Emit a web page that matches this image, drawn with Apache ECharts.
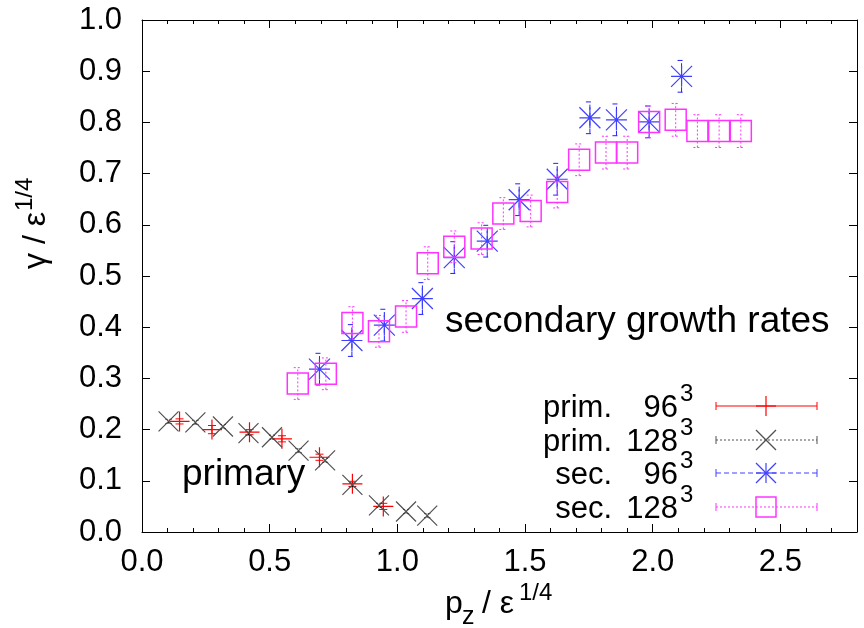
<!DOCTYPE html>
<html><head><meta charset="utf-8">
<script src="https://cdn.jsdelivr.net/npm/echarts@6/dist/echarts.min.js"></script>
<style>html,body{margin:0;padding:0;background:#fff}#c{width:864px;height:628px}</style>
</head><body><div id="c"></div>
<script>
// ---- data ----
const prim96X  = [0.147, 0.274, 0.421, 0.548, 0.695, 0.824, 0.945];
const prim96Y  = [0.216, 0.200, 0.195, 0.182, 0.146, 0.094, 0.050];
const prim96E  = [0.005, 0.008, 0.005, 0.006, 0.006, 0.005, 0.006];
const prim128X = [0.104, 0.209, 0.317, 0.417, 0.509, 0.613, 0.717, 0.824, 0.928, 1.034, 1.117];
const prim128Y = [0.216, 0.214, 0.206, 0.193, 0.185, 0.159, 0.140, 0.092, 0.052, 0.040, 0.032];
const prim128E = [0.004, 0.004, 0.004, 0.004, 0.004, 0.004, 0.004, 0.004, 0.004, 0.004, 0.004];
const sec96X   = [0.695, 0.822, 0.949, 1.098, 1.223, 1.352, 1.477, 1.626, 1.754, 1.858, 1.986, 2.113];
const sec96Y   = [0.318, 0.374, 0.404, 0.456, 0.536, 0.568, 0.649, 0.689, 0.809, 0.805, 0.801, 0.890];
const sec96E   = [0.031, 0.031, 0.031, 0.031, 0.031, 0.031, 0.031, 0.031, 0.031, 0.031, 0.031, 0.031];
const sec128X  = [0.610, 0.720, 0.824, 0.928, 1.034, 1.119, 1.223, 1.330, 1.415, 1.522, 1.626, 1.712, 1.817, 1.900, 1.986, 2.090, 2.175, 2.260, 2.345];
const sec128Y  = [0.290, 0.309, 0.408, 0.392, 0.421, 0.525, 0.557, 0.573, 0.622, 0.627, 0.664, 0.727, 0.741, 0.741, 0.801, 0.805, 0.783, 0.783, 0.783];
const sec128E  = [0.031, 0.031, 0.032, 0.031, 0.031, 0.032, 0.031, 0.031, 0.031, 0.031, 0.031, 0.031, 0.032, 0.032, 0.031, 0.032, 0.032, 0.032, 0.032];
const xTickLabels = ['0.0', '0.5', '1.0', '1.5', '2.0', '2.5'];
const yTickLabels = ['0.0', '0.1', '0.2', '0.3', '0.4', '0.5', '0.6', '0.7', '0.8', '0.9', '1.0'];
const legendNames = ['prim.', 'prim.', 'sec.', 'sec.'];
const legendRes   = ['96', '128', '96', '128'];

// ---- styles ----
const FONT = 'Liberation Sans, Arial, Helvetica, sans-serif';
const C_RED = '#ff0000', C_BLK = '#505050', C_BLU = '#4040ff', C_MAG = '#ff33ff';
const SYM_PLUS = 'path://M5,0L5,10M0,5L10,5';
const SYM_X = 'path://M0,0L10,10M10,0L0,10';
const SYM_AST = 'path://M5,0L5,10M0,5L10,5M0,0L10,10M10,0L0,10';

function pairs(xs, ys) { return xs.map((x, i) => [x, ys[i]]); }
function triples(xs, ys, es) { return xs.map((x, i) => [x, ys[i], es[i]]); }

function errSeries(xs, ys, es, color, dash, capW, z) {
  return {
    type: 'custom', silent: true, z: z,
    data: triples(xs, ys, es),
    encode: { x: 0, y: 1 },
    renderItem: function (params, api) {
      const x = api.value(0), y = api.value(1), e = api.value(2);
      const a = api.coord([x, y - e]), b = api.coord([x, y + e]);
      const st = { stroke: color, lineWidth: 1, lineDash: dash, fill: null };
      return { type: 'group', children: [
        { type: 'line', shape: { x1: a[0], y1: a[1], x2: b[0], y2: b[1] }, style: st },
        { type: 'line', shape: { x1: a[0] - capW, y1: a[1], x2: a[0] + capW, y2: a[1] }, style: st },
        { type: 'line', shape: { x1: b[0] - capW, y1: b[1], x2: b[0] + capW, y2: b[1] }, style: st }
      ]};
    }
  };
}
function markSeries(xs, ys, symbol, size, color, width, z) {
  return {
    type: 'scatter', silent: true, z: z, data: pairs(xs, ys),
    symbol: symbol, symbolSize: size,
    itemStyle: { color: 'none', borderColor: color, borderWidth: width, opacity: 1 },
    emphasis: { disabled: true }
  };
}

// ---- legend & annotation graphics ----
const graphics = [];
const rowY = [406, 440, 473, 507];
const lx0 = 716, lx1 = 817, lxm = 766;
const legStyle = [
  { c: C_RED, dash: null },
  { c: C_BLK, dash: [2, 2] },
  { c: C_BLU, dash: [5, 3] },
  { c: C_MAG, dash: [2, 2] }
];
function ln(x1, y1, x2, y2, color, w, dash) {
  return { type: 'line', silent: true, z: 100, shape: { x1, y1, x2, y2 },
    style: { stroke: color, lineWidth: w, lineDash: dash } };
}
rowY.forEach((y, i) => {
  const s = legStyle[i];
  graphics.push({ type: 'text', silent: true, z: 100, x: 612, y: y + 2,
    style: { text: legendNames[i], font: '31px ' + FONT, fill: '#000', align: 'right', verticalAlign: 'middle' } });
  graphics.push({ type: 'text', silent: true, z: 100, x: 678, y: y + 2,
    style: { text: legendRes[i], font: '31px ' + FONT, fill: '#000', align: 'right', verticalAlign: 'middle' } });
  graphics.push({ type: 'text', silent: true, z: 100, x: 680, y: y - 12,
    style: { text: '3', font: '24px ' + FONT, fill: '#000', align: 'left', verticalAlign: 'middle' } });
  graphics.push(ln(lx0, y, lx1, y, s.c, 1, s.dash));
  graphics.push(ln(lx0, y - 4, lx0, y + 4, s.c, 1, null));
  graphics.push(ln(lx1, y - 4, lx1, y + 4, s.c, 1, null));
});
// legend markers
graphics.push(ln(lxm - 10, rowY[0], lxm + 10, rowY[0], C_RED, 1.2));
graphics.push(ln(lxm, rowY[0] - 10, lxm, rowY[0] + 10, C_RED, 1.2));
graphics.push(ln(lxm - 10, rowY[1] - 10, lxm + 10, rowY[1] + 10, C_BLK, 1.2));
graphics.push(ln(lxm + 10, rowY[1] - 10, lxm - 10, rowY[1] + 10, C_BLK, 1.2));
[[-10, 0, 10, 0], [0, -10, 0, 10], [-10, -10, 10, 10], [10, -10, -10, 10]].forEach(d =>
  graphics.push(ln(lxm + d[0], rowY[2] + d[1], lxm + d[2], rowY[2] + d[3], C_BLU, 1.2)));
graphics.push({ type: 'rect', silent: true, z: 100, shape: { x: lxm - 10, y: rowY[3] - 10, width: 20, height: 20 },
  style: { fill: null, stroke: C_MAG, lineWidth: 1.5 } });

// annotations
graphics.push({ type: 'text', silent: true, z: 100, x: 445, y: 322,
  style: { text: 'secondary growth rates', font: '37px ' + FONT, fill: '#000', align: 'left', verticalAlign: 'middle' } });
graphics.push({ type: 'text', silent: true, z: 100, x: 182, y: 475,
  style: { text: 'primary', font: '37px ' + FONT, fill: '#000', align: 'left', verticalAlign: 'middle' } });

// x axis title: p_z / ε^{1/4}
graphics.push({ type: 'text', silent: true, x: 445, y: 604,
  style: { text: 'p', font: '32px ' + FONT, fill: '#000', align: 'left', verticalAlign: 'middle' } });
graphics.push({ type: 'text', silent: true, x: 462, y: 617,
  style: { text: 'z', font: '25px ' + FONT, fill: '#000', align: 'left', verticalAlign: 'middle' } });
graphics.push({ type: 'text', silent: true, x: 482, y: 604,
  style: { text: '/ ε', font: '32px ' + FONT, fill: '#000', align: 'left', verticalAlign: 'middle' } });
graphics.push({ type: 'text', silent: true, x: 519, y: 593,
  style: { text: '1/4', font: '24px ' + FONT, fill: '#000', align: 'left', verticalAlign: 'middle' } });
// y axis title: γ / ε^{1/4} (rotated)
graphics.push({ type: 'group', silent: true, x: 47, y: 212, rotation: Math.PI / 2, children: [
  { type: 'text', x: 0, y: -11, style: { text: 'γ / ε', font: '32px ' + FONT, fill: '#000', align: 'right', verticalAlign: 'middle' } },
  { type: 'text', x: 1, y: -22, style: { text: '1/4', font: '24px ' + FONT, fill: '#000', align: 'left', verticalAlign: 'middle' } }
]});

// ---- axes ----
function xAx(pos, showLabel) {
  return {
    type: 'value', position: pos, min: 0, max: 2.8, interval: 0.5,
    axisLine: { show: true, onZero: false, lineStyle: { color: '#000', width: 1 } },
    axisTick: { show: true, inside: true, length: 8, lineStyle: { color: '#000', width: 1 } },
    minorTick: { show: true, splitNumber: 5, length: 4, lineStyle: { color: '#000', width: 1 } },
    splitLine: { show: false }, minorSplitLine: { show: false },
    axisLabel: { show: showLabel, margin: 15, color: '#000', fontSize: 31, fontFamily: FONT,
      showMaxLabel: true, hideOverlap: false,
      formatter: v => { const k = Math.round(v / 0.5); return Math.abs(v - k * 0.5) < 1e-6 && xTickLabels[k] !== undefined ? xTickLabels[k] : ''; } }
  };
}
function yAx(pos, showLabel) {
  return {
    type: 'value', position: pos, min: 0, max: 1, interval: 0.1,
    axisLine: { show: true, onZero: false, lineStyle: { color: '#000', width: 1 } },
    axisTick: { show: true, inside: true, length: 8, lineStyle: { color: '#000', width: 1 } },
    splitLine: { show: false },
    axisLabel: { show: showLabel, margin: 20, color: '#000', fontSize: 31, fontFamily: FONT, hideOverlap: false,
      formatter: v => yTickLabels[Math.round(v * 10)] }
  };
}

const chart = echarts.init(document.getElementById('c'), null, { renderer: 'canvas' });
chart.setOption({
  animation: false,
  backgroundColor: '#fff',
  grid: { left: 142, right: 7, top: 20, bottom: 96, containLabel: false, outerBoundsMode: 'none' },
  xAxis: [xAx('bottom', true), xAx('top', false)],
  yAxis: [yAx('left', true), yAx('right', false)],
  series: [
    errSeries(prim96X, prim96Y, prim96E, C_RED, null, 4, 10),
    markSeries(prim96X, prim96Y, SYM_PLUS, 20, C_RED, 1.2, 11),
    errSeries(prim128X, prim128Y, prim128E, '#000', [2, 2], 3, 12),
    markSeries(prim128X, prim128Y, SYM_X, 20, C_BLK, 1.2, 13),
    errSeries(sec96X, sec96Y, sec96E, '#2020ff', [5, 3], 4, 14),
    markSeries(sec96X, sec96Y, SYM_AST, 21, C_BLU, 1.2, 15),
    errSeries(sec128X, sec128Y, sec128E, C_MAG, [2, 2], 4, 16),
    markSeries(sec128X, sec128Y, 'rect', 21, C_MAG, 1.5, 17)
  ],
  graphic: graphics
});
</script>
</body></html>
